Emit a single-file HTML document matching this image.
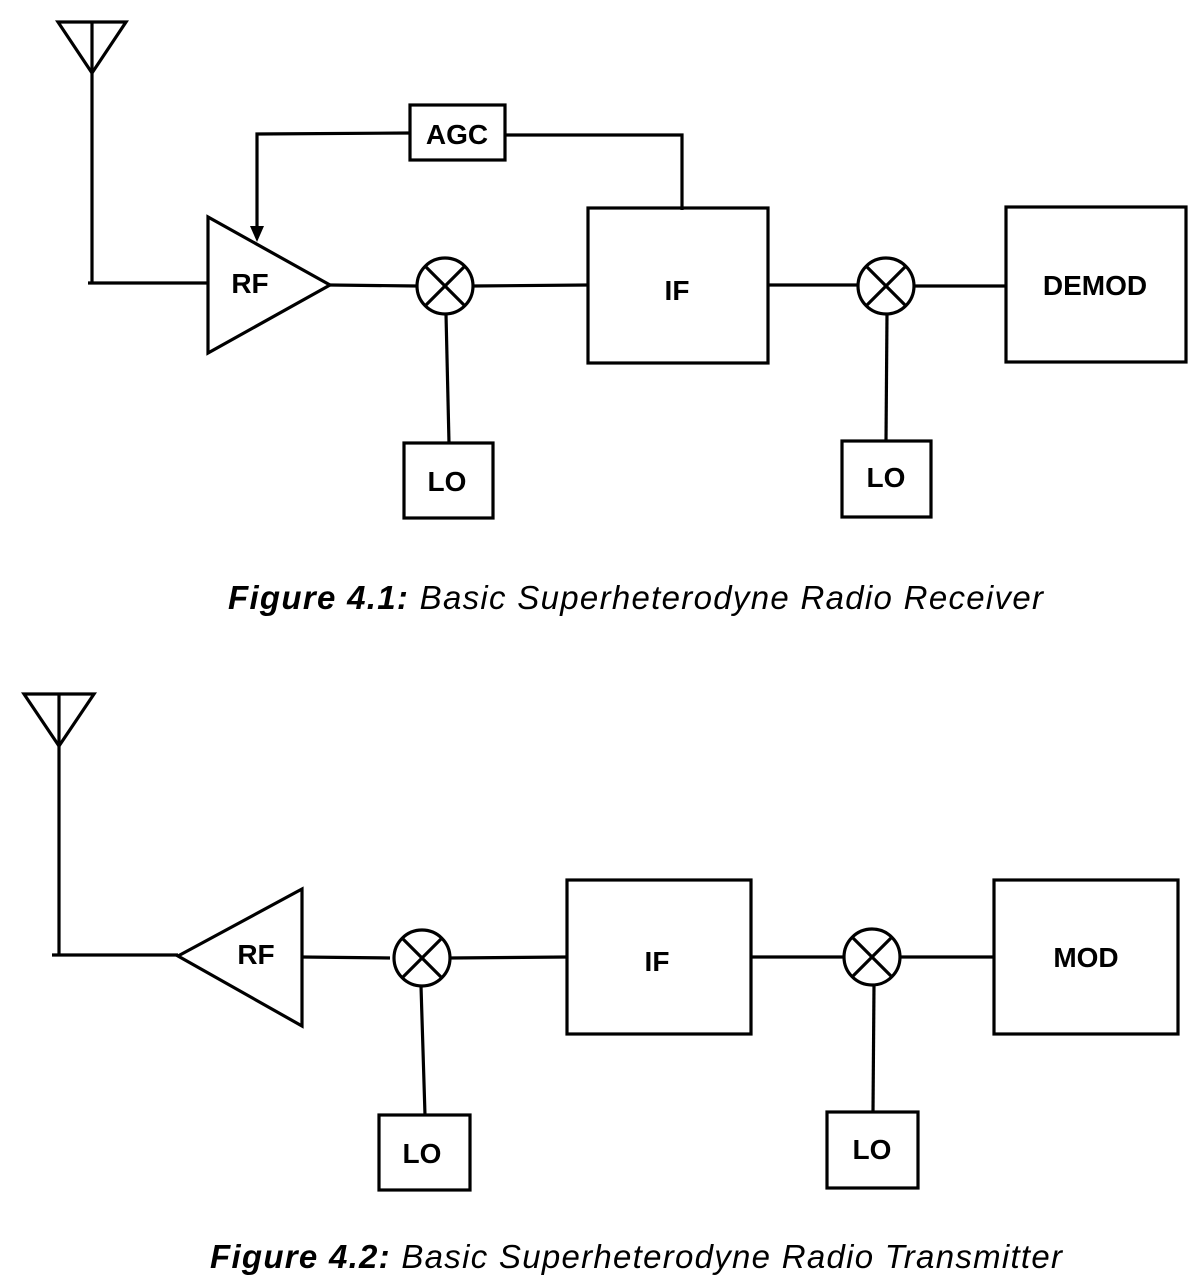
<!DOCTYPE html>
<html><head><style>body{margin:0;background:#fff}svg{display:block}</style></head><body>
<svg width="1200" height="1288" viewBox="0 0 1200 1288" xmlns="http://www.w3.org/2000/svg">
<g fill="none" stroke="#000" stroke-width="3.2">
<!-- Figure 1 -->
<polygon points="58,22 126,22 92,73"/>
<line x1="92" y1="22" x2="92" y2="283"/>
<line x1="88" y1="283" x2="208" y2="283"/>
<polygon points="208,217 208,353 330,285"/>
<line x1="330" y1="285" x2="417" y2="286"/>
<circle cx="445" cy="286" r="28"/>
<line x1="425" y1="266" x2="465" y2="306"/><line x1="465" y1="266" x2="425" y2="306"/>
<line x1="473" y1="286" x2="588" y2="285"/>
<rect x="588" y="208" width="180" height="155"/>
<rect x="410" y="105" width="95" height="55"/>
<polyline points="410,133 257,134 257,228"/>
<polyline points="505,135 682,135 682,210"/>
<line x1="446" y1="314" x2="449" y2="443"/>
<rect x="404" y="443" width="89" height="75"/>
<line x1="768" y1="285" x2="858" y2="285"/>
<circle cx="886" cy="286" r="28"/>
<line x1="866" y1="266" x2="906" y2="306"/><line x1="906" y1="266" x2="866" y2="306"/>
<line x1="914" y1="286" x2="1005" y2="286"/>
<rect x="1006" y="207" width="180" height="155"/>
<line x1="887" y1="314" x2="886" y2="441"/>
<rect x="842" y="441" width="89" height="76"/>
<!-- Figure 2 -->
<polygon points="24,694 94,694 59,746"/>
<line x1="59" y1="694" x2="59" y2="955"/>
<line x1="52" y1="955" x2="178" y2="955"/>
<polygon points="178,956 302,889 302,1026"/>
<line x1="302" y1="957" x2="390" y2="958"/>
<circle cx="422" cy="958" r="28"/>
<line x1="402" y1="938" x2="442" y2="978"/><line x1="442" y1="938" x2="402" y2="978"/>
<line x1="450" y1="958" x2="567" y2="957"/>
<rect x="567" y="880" width="184" height="154"/>
<line x1="421" y1="986" x2="425" y2="1115"/>
<rect x="379" y="1115" width="91" height="75"/>
<line x1="751" y1="957" x2="844" y2="957"/>
<circle cx="872" cy="957" r="28"/>
<line x1="852" y1="937" x2="892" y2="977"/><line x1="892" y1="937" x2="852" y2="977"/>
<line x1="900" y1="957" x2="994" y2="957"/>
<rect x="994" y="880" width="184" height="154"/>
<line x1="874" y1="985" x2="873" y2="1112"/>
<rect x="827" y="1112" width="91" height="76"/>
</g>
<polygon points="250,226 264,226 257,242" fill="#000"/>
<g font-family="Liberation Sans, sans-serif" font-weight="bold" font-size="28" text-anchor="middle" fill="#000">
<text x="457" y="144">AGC</text>
<text x="250" y="293">RF</text>
<text x="677" y="300">IF</text>
<text x="447" y="491">LO</text>
<text x="1095" y="295">DEMOD</text>
<text x="886" y="487">LO</text>
<text x="256" y="964">RF</text>
<text x="657" y="971">IF</text>
<text x="422" y="1163">LO</text>
<text x="1086" y="967">MOD</text>
<text x="872" y="1159">LO</text>
</g>
<g font-family="Liberation Sans, sans-serif" font-style="italic" font-size="33" fill="#000">
<text x="228" y="609" textLength="815" lengthAdjust="spacing"><tspan font-weight="bold">Figure 4.1:</tspan>   Basic Superheterodyne Radio Receiver</text>
<text x="210" y="1268" textLength="852" lengthAdjust="spacing"><tspan font-weight="bold">Figure 4.2:</tspan>   Basic Superheterodyne Radio Transmitter</text>
</g>
</svg>
</body></html>
